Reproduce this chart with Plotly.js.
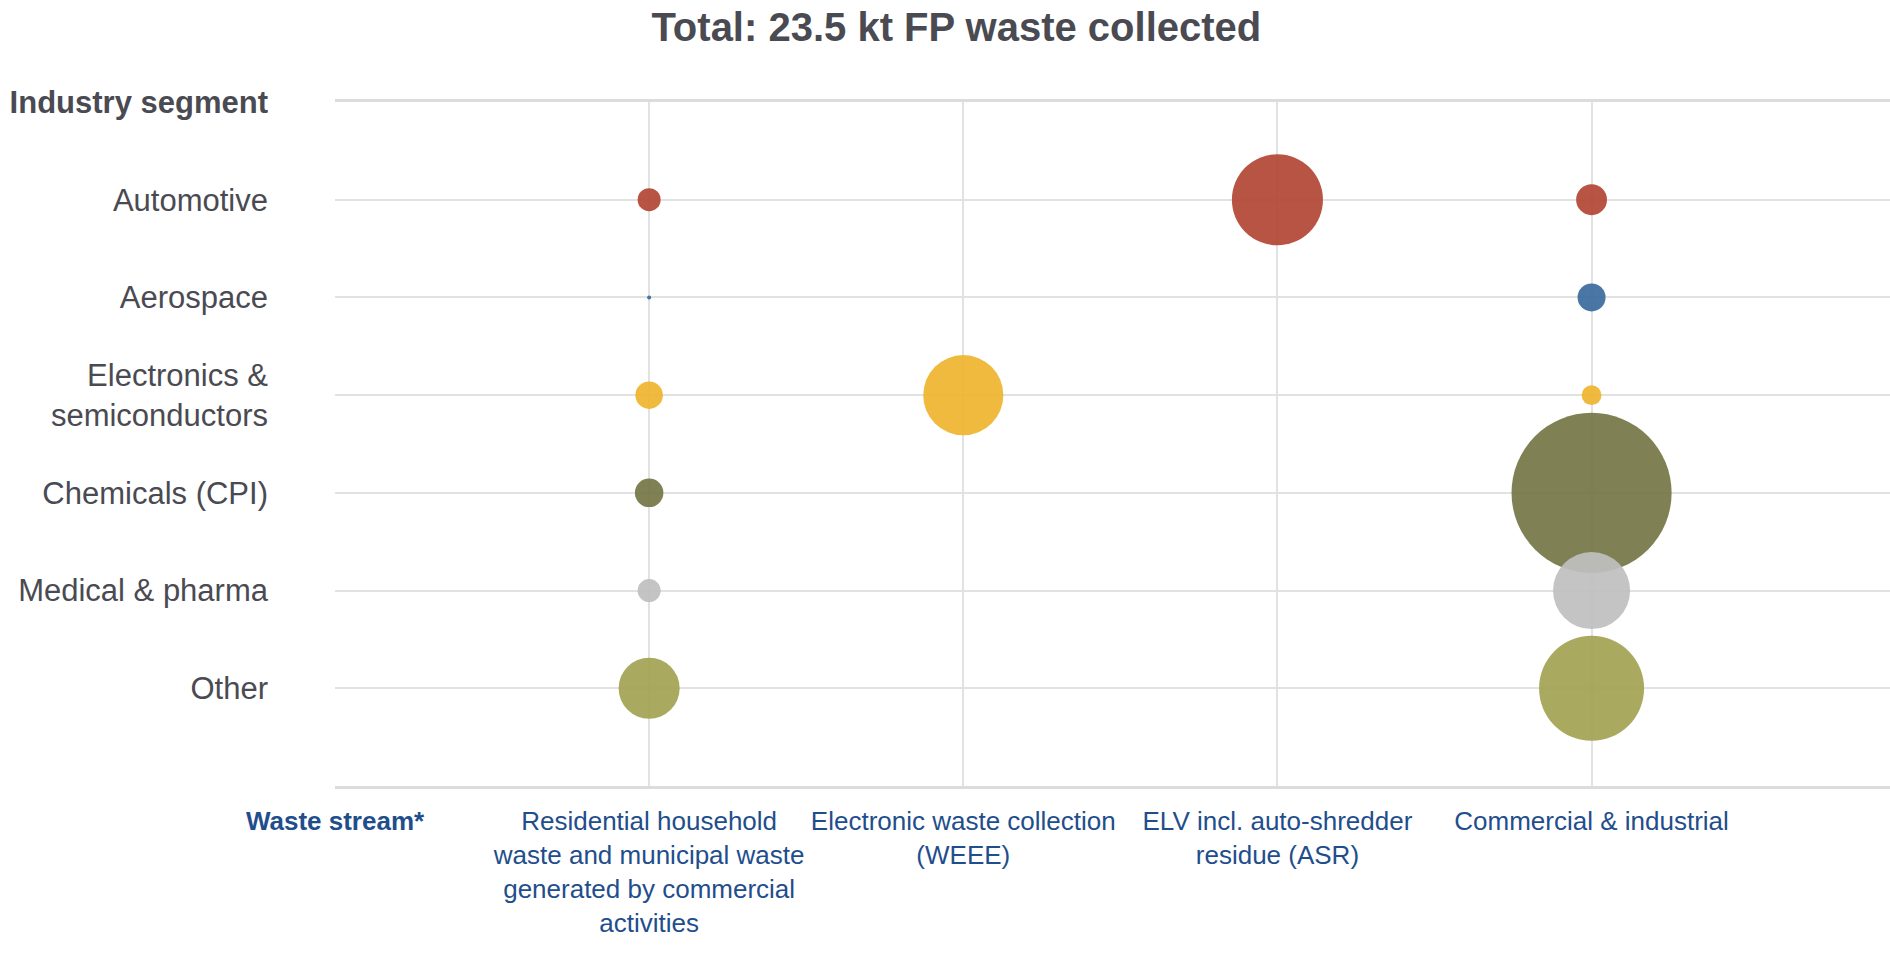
<!DOCTYPE html>
<html>
<head>
<meta charset="utf-8">
<script src="https://cdn.plot.ly/plotly-3.0.1.min.js"></script>
<style>
  html, body { margin: 0; padding: 0; background: #ffffff; }
  #chart { width: 1890px; height: 954px; }
</style>
</head>
<body>
<div id="chart"></div>
<script>
// ---- Data (kt of FP waste) ----
const segments = ['Automotive', 'Aerospace', 'Electronics &<br>semiconductors', 'Chemicals (CPI)', 'Medical & pharma', 'Other'];
const streams = [
  'Residential household<br>waste and municipal waste<br>generated by commercial<br>activities',
  'Electronic waste collection<br>(WEEE)',
  'ELV incl. auto-shredder<br>residue (ASR)',
  'Commercial & industrial'
];
const streamAxisLabel = 'Waste stream*';
const segmentAxisLabel = 'Industry segment';
const titleText = 'Total: 23.5 kt FP waste collected';

// values per waste stream, in segment order
const residential = [0.19, 0.006, 0.27, 0.29, 0.19, 1.33];
const weee        = [null, null, 2.29, null, null, null];
const elv         = [2.96, null, null, null, null, null];
const commercial  = [0.34, 0.28, 0.14, 9.15, 2.12, 3.94];

const segmentColors = ['#B24534', '#3A6A9D', '#EEB42E', '#747544', '#BFBFBF', '#A2A352'];

// ---- Build traces ----
const streamValues = [residential, weee, elv, commercial];
const segPos = segments.map((_, i) => segments.length - i); // top to bottom
const streamPos = streams.map((_, j) => j + 1);

const traces = segments.map((seg, i) => {
  const xs = [], ys = [], ss = [];
  streamValues.forEach((vals, j) => {
    if (vals[i] !== null && vals[i] !== undefined) {
      xs.push(streamPos[j]);
      ys.push(segPos[i]);
      ss.push(vals[i]);
    }
  });
  return {
    type: 'scatter',
    mode: 'markers',
    name: seg,
    x: xs,
    y: ys,
    marker: {
      size: ss,
      sizemode: 'area',
      sizeref: 0.000714,
      color: segmentColors[i],
      opacity: 0.92,
      line: { width: 0 }
    },
    hoverinfo: 'skip'
  };
});

const font = 'Liberation Sans, Arial, Helvetica, sans-serif';

const layout = {
  width: 1890,
  height: 954,
  paper_bgcolor: '#ffffff',
  plot_bgcolor: '#ffffff',
  margin: { l: 335, r: 0, t: 102, b: 168 },
  showlegend: false,
  hovermode: false,
  title: {
    text: '<b>' + titleText + '</b>',
    font: { family: font, size: 40, color: '#4a4a52' },
    xref: 'container', yref: 'container',
    x: 0.506, y: 0.972, xanchor: 'center', yanchor: 'middle'
  },
  xaxis: {
    range: [0, 4.95],
    tickmode: 'array',
    tickvals: [0].concat(streamPos),
    ticktext: ['<b>' + streamAxisLabel + '</b>'].concat(streams),
    tickfont: { family: font, size: 26, color: '#1F4E8C' },
    ticks: '',
    ticklabelstandoff: 10,
    showgrid: true,
    gridcolor: '#e2e2e2',
    gridwidth: 2,
    zeroline: false,
    showline: true,
    mirror: true,
    linecolor: '#dcdcdc',
    linewidth: 3,
    fixedrange: true
  },
  yaxis: {
    range: [0, 7],
    tickmode: 'array',
    tickvals: [7].concat(segPos),
    ticktext: ['<b>' + segmentAxisLabel + '</b>'].concat(segments),
    tickfont: { family: font, size: 31, color: '#4a4a52' },
    ticks: '',
    ticklabelstandoff: 66,
    showgrid: true,
    gridcolor: '#e2e2e2',
    gridwidth: 2,
    zeroline: false,
    showline: false,
    fixedrange: true
  }
};

Plotly.newPlot('chart', traces, layout, { displayModeBar: false, staticPlot: true });
</script>
</body>
</html>
